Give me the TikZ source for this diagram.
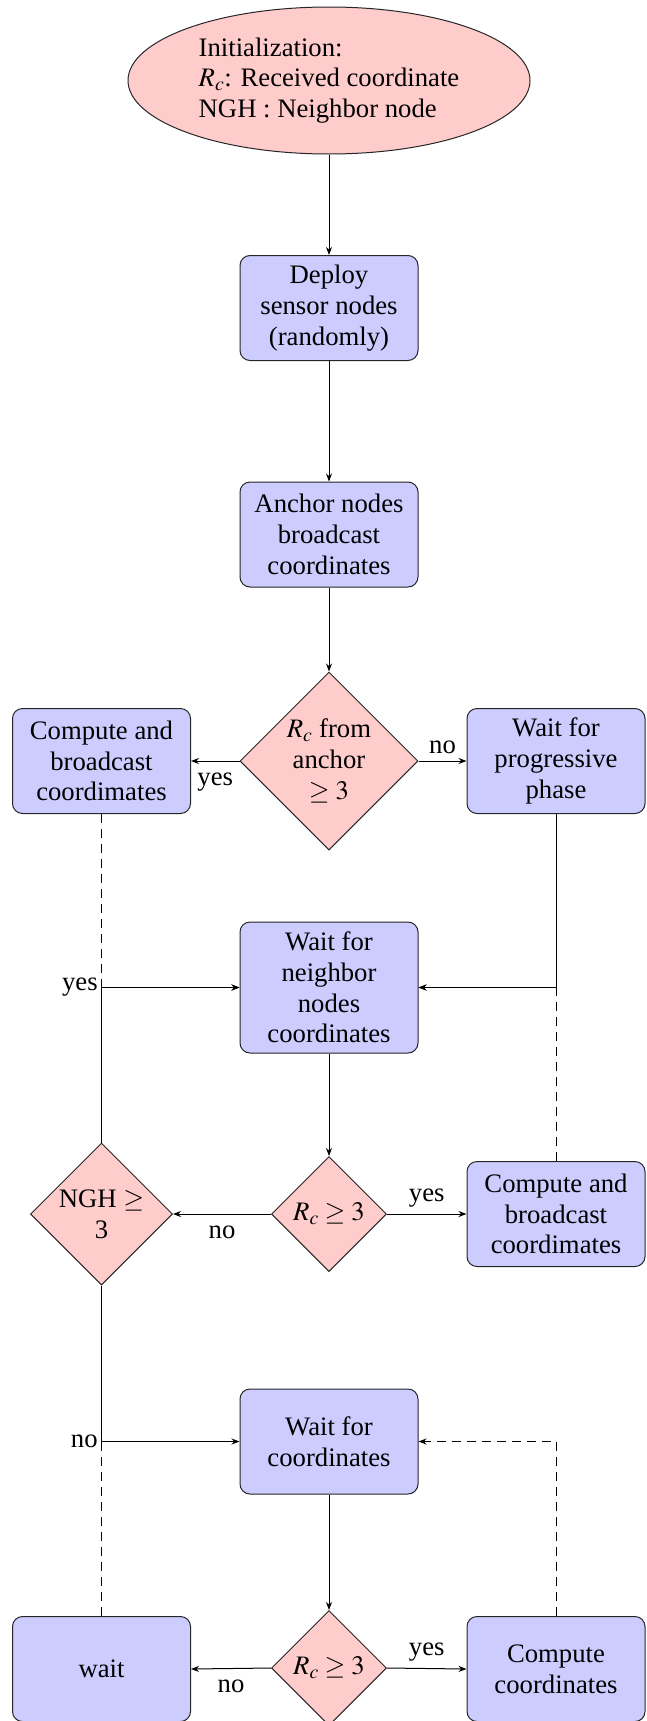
\documentclass[tikz,border=0pt]{standalone}
\usepackage{mathptmx}
\usepackage{fontspec}
\setmainfont{Liberation Serif}
\usetikzlibrary{shapes.geometric,arrows.meta}
\begin{document}
\begin{tikzpicture}[x=1pt,y=-1pt,
  font=\fontsize{26.7}{30.7}\selectfont,
  line width=1pt,
  stepbox/.style={draw=black!85, fill=blue!20, rounded corners=10pt, minimum width=178pt, minimum height=105pt, align=center, inner sep=2pt},
  decision/.style={diamond, draw=black!85, fill=red!20, inner sep=0pt, minimum width=#1, minimum height=#1},
  startbox/.style={ellipse, draw=black!85, fill=red!20, minimum width=402pt, minimum height=147pt, align=left, inner sep=0pt},
  arr/.style={-{Stealth[length=8pt,width=6pt]}},
  dsh/.style={dashed, dash pattern=on 9pt off 6pt}
]
\useasboundingbox (0,0) rectangle (646,1721);

\node[startbox] (init) at (329,80.5) {Initialization:\\$R_c$: Received coordinate\\NGH : Neighbor node};
\node[stepbox] (deploy) at (329,308) {Deploy\\sensor nodes\\(randomly)};
\node[stepbox] (anchor) at (329,534.5) {Anchor nodes\\broadcast\\coordinates};
\node[decision=178pt, label={[align=center]center:{$R_c$ from\\anchor\\$\geq 3$}}] (d1) at (329,761) {};
\node[stepbox] (lb1) at (101.5,761) {Compute and\\broadcast\\coordimates};
\node[stepbox] (rb1) at (556,761) {Wait for\\progressive\\phase};
\node[stepbox, minimum height=131pt] (wn) at (329,987.5) {Wait for\\neighbor\\nodes\\coordinates};
\node[decision=115pt, label={center:{$R_c \geq 3$}}] (d2) at (329,1214) {};
\node[decision=142pt, label={[align=center]center:{NGH $\geq$\\3}}] (ngh) at (101.5,1214) {};
\node[stepbox] (rb2) at (556,1214) {Compute and\\broadcast\\coordimates};
\node[stepbox] (wc) at (329,1441.5) {Wait for\\coordinates};
\node[decision=115pt, label={center:{$R_c \geq 3$}}] (d3) at (329,1668) {};
\node[stepbox] (wb) at (101.5,1669) {wait};
\node[stepbox] (cc) at (556,1669) {Compute\\coordinates};

\coordinate (jl1) at (101.5,987.5);
\coordinate (jr1) at (556,987.5);
\coordinate (jl2) at (101.5,1441.5);
\coordinate (jr2) at (556,1441.5);

\draw[arr] (init) -- (deploy);
\draw[arr] (deploy) -- (anchor);
\draw[arr] (anchor) -- (d1);
\draw[arr] (d1.west) -- node[below=8pt]{yes} (lb1.east);
\draw[arr] (d1.east) -- node[above=3pt]{no} (rb1.west);
\draw[dsh] (lb1.south) -- (jl1);
\draw[dsh,arr] (jl1) -- (wn.west);
\draw[arr] (ngh.north) -- (jl1) node[left]{yes} -- (wn.west);
\draw[arr] (rb1.south) -- (jr1) -- (wn.east);
\draw[dsh,arr] (rb2.north) -- (jr1) -- (wn.east);
\draw[arr] (wn) -- (d2);
\draw[arr] (d2.west) -- node[below=8pt]{no} (ngh.east);
\draw[arr] (d2.east) -- node[above=3pt]{yes} (rb2.west);
\draw[arr] (ngh.south) -- (jl2) node[left]{no} -- (wc.west);
\draw[dsh] (wb.north) -- (jl2);
\draw[dsh,arr] (cc.north) -- (jr2) -- (wc.east);
\draw[arr] (wc) -- (d3);
\draw[arr] (d3.west) -- node[below=8pt]{no} (wb.east);
\draw[arr] (d3.east) -- node[above=3pt]{yes} (cc.west);
\end{tikzpicture}
\end{document}
